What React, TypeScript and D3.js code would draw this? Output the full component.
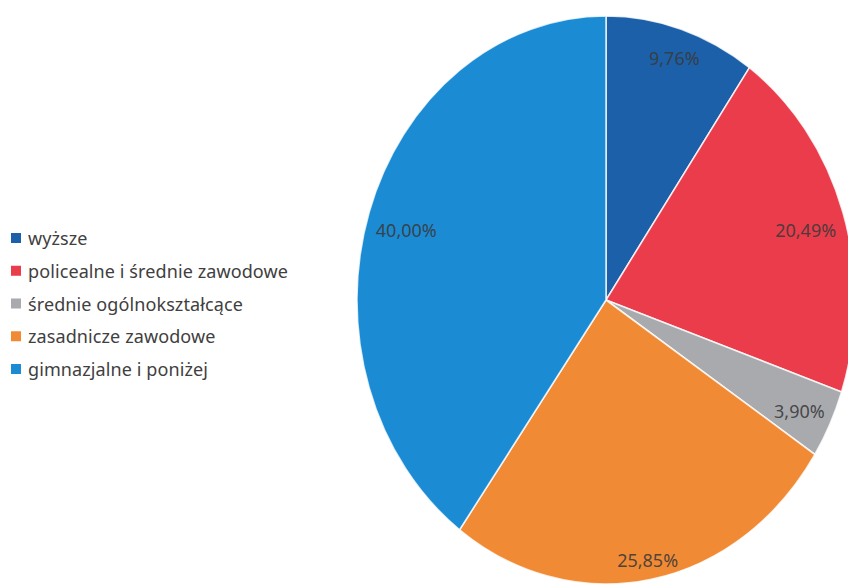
import React from "react";
import * as d3 from "d3";

const categories = [
  "wyższe",
  "policealne i średnie zawodowe",
  "średnie ogólnokształcące",
  "zasadnicze zawodowe",
  "gimnazjalne i poniżej",
];
const values = [9.76, 20.49, 3.9, 25.85, 40.0];
const valueLabels = ["9,76%", "20,49%", "3,90%", "25,85%", "40,00%"];
const colors = ["#1c60a9", "#ea3c4b", "#a8aaae", "#f18a34", "#1b8bd4"];

const W = 848;
const H = 585;
const cx = 606;
const cy = 300;
const rx = 249;
const ry = 284;
const labelFont = 18;

export default function App() {
  const pie = d3
    .pie<number>()
    .sort(null)
    .startAngle(0)
    .endAngle(2 * Math.PI)
    .value((d) => d);
  const arcs = pie(values);
  const arc = d3.arc<d3.PieArcDatum<number>>().innerRadius(0).outerRadius(1);

  const legendY = d3
    .scaleLinear()
    .domain([0, categories.length - 1])
    .range([238, 369]);

  const labelPos = (a: d3.PieArcDatum<number>, text: string) => {
    const m = (a.startAngle + a.endAngle) / 2;
    const ex = cx + rx * Math.sin(m);
    const ey = cy - ry * Math.cos(m);
    let dx = rx * Math.sin(m);
    let dy = -ry * Math.cos(m);
    const len = Math.hypot(dx, dy);
    dx /= len;
    dy /= len;
    const halfW = text.length * labelFont * 0.28;
    const halfH = labelFont * 0.68;
    const shift = halfW * Math.abs(dx) + halfH * Math.abs(dy) + 7;
    return [ex - dx * shift, ey - dy * shift + 4];
  };

  return (
    <svg
      width={W}
      height={H}
      style={{ position: "absolute", left: 0, top: 0, background: "#fff" }}
      fontFamily="'Noto Sans', sans-serif"
    >
      <g transform={`translate(${cx},${cy}) scale(${rx},${ry})`}>
        {arcs.map((a, i) => (
          <path
            key={i}
            d={arc(a) || ""}
            fill={colors[i]}
            stroke="#ffffff"
            strokeOpacity={0.8}
            strokeWidth={1.6}
            vectorEffect="non-scaling-stroke"
          />
        ))}
      </g>
      {arcs.map((a, i) => {
        const [x, y] = labelPos(a, valueLabels[i]);
        return (
          <text
            key={i}
            x={x}
            y={y}
            textAnchor="middle"
            dominantBaseline="central"
            fontSize={labelFont}
            fill="#3a3a3a"
            fillOpacity={0.9}
          >
            {valueLabels[i]}
          </text>
        );
      })}
      {categories.map((c, i) => (
        <g key={c} transform={`translate(0,${legendY(i)})`}>
          <rect x={11} y={-5} width={10} height={10} fill={colors[i]} />
          <text
            x={28}
            y={0}
            dominantBaseline="central"
            fontSize={18}
            letterSpacing={0.1}
            fill="#404040"
          >
            {c}
          </text>
        </g>
      ))}
    </svg>
  );
}
